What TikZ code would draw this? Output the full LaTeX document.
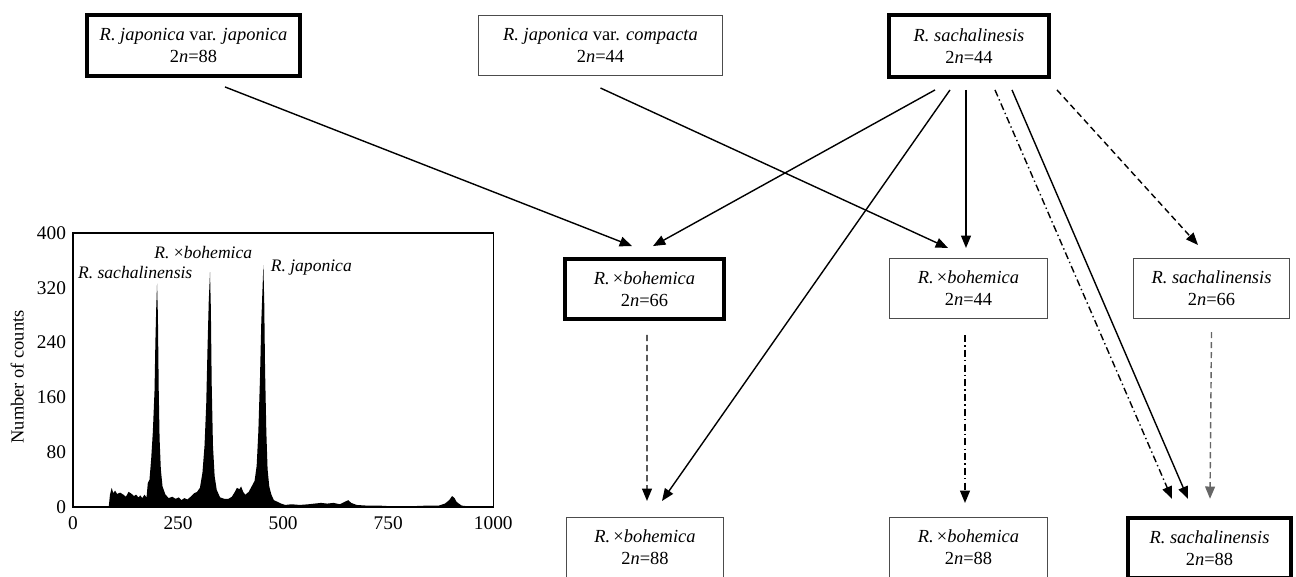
\documentclass[tikz,border=0pt]{standalone}
\usepackage{fontspec}
\setmainfont{Liberation Serif}
\usetikzlibrary{arrows.meta, calc}

\tikzset{
	box/.style={draw=black!70, line width=0.6pt, align=center, inner sep=0pt,
		font=\fontsize{10.5}{12.6}\selectfont},
	thickbox/.style={box, draw=black, line width=2.5pt},
	tick/.style={inner sep=0pt, font=\fontsize{11}{12}\selectfont},
	arr/.style={-{Triangle[length=7pt,width=5.6pt]}, line width=0.8pt},
	dsh/.style={arr, dash pattern=on 3.5pt off 2.2pt},
	dshdot/.style={arr, dash pattern=on 4pt off 1.8pt on 0.8pt off 1.8pt},
}

\begin{document}
\begin{tikzpicture}[x=0.02cm, y=-0.02cm]
	\clip (0,0) rectangle (1296,576);

	% histogram
	\begin{scope}[shift={(73,507)}, x=0.0084cm, y=0.0137cm]
		\fill (85,0) -- plot coordinates {(88,18)(92,28)(96,20)(100,24)(105,19)(112,21)(120,18)(126,15)(132,22)(138,20)(145,16)(150,18)(156,14)(160,17)(165,13)(170,18)(175,14)(178,35)(182,40)(186,70)(190,110)(194,170)(196,240)(198,290)(200,326)(202,280)(204,170)(206,100)(209,55)(213,30)(220,18)(228,13)(236,15)(244,12)(252,14)(258,10)(265,13)(272,11)(280,15)(288,20)(295,22)(302,28)(308,50)(313,90)(317,150)(320,230)(323,300)(326,343)(328,290)(330,180)(333,90)(337,45)(342,25)(350,14)(360,12)(370,12)(378,15)(385,22)(390,28)(396,26)(400,30)(405,22)(410,18)(418,22)(425,30)(432,38)(437,60)(441,110)(445,190)(448,270)(451,320)(453,353)(455,300)(457,200)(460,110)(463,55)(467,30)(472,18)(478,10)(485,8)(495,5)(505,3)(520,4)(540,3)(560,4)(575,5)(590,6)(605,5)(620,6)(635,4)(648,8)(655,10)(662,6)(675,3)(700,2)(730,2)(760,1)(800,1)(840,2)(870,2)(885,5)(895,10)(902,16)(908,13)(912,8)(918,5)(925,2)(940,1)} -- (955,0) -- cycle;
		\draw[line width=0.6pt] (0,0) rectangle (1000,400);
		\foreach \v in {0,80,...,400}
			\node[tick, anchor=east] (yt\v) at (-16,\v) {\v};
		\foreach \v in {0,250,...,1000}
			\node[tick, anchor=north] (xt\v) at (\v,-14) {\v};
		\node[rotate=90, font=\fontsize{10.5}{12}\selectfont] (ylab) at (-133,190) {Number of counts};
		\node[font=\fontsize{10}{12}\selectfont] (psa) at (148,342) {\textit{R. sachalinensis}};
		\node[font=\fontsize{10}{12}\selectfont] (pbo) at (310,372) {\textit{R.} ×\textit{bohemica}};
		\node[font=\fontsize{10}{12}\selectfont] (pja) at (567,350) {\textit{R. japonica}};
	\end{scope}

	% boxes
	\node[thickbox, minimum width=4.25cm, minimum height=1.21cm] (jj) at (193.5,45.5)
		{\textit{R. japonica} var. \textit{japonica}\\2\textit{n}=88};
	\node[box, minimum width=4.88cm, minimum height=1.2cm] (jc) at (600.5,45.5)
		{\textit{R. japonica} var. \textit{compacta}\\2\textit{n}=44};
	\node[thickbox, minimum width=3.19cm, minimum height=1.23cm] (sa) at (969,46)
		{\textit{R. sachalinesis}\\2\textit{n}=44};
	\node[thickbox, minimum width=3.17cm, minimum height=1.19cm] (b66) at (644.5,289)
		{\textit{R.}\,×\textit{bohemica}\\2\textit{n}=66};
	\node[box, minimum width=3.16cm, minimum height=1.2cm] (b44) at (968.5,288.5)
		{\textit{R.}\,×\textit{bohemica}\\2\textit{n}=44};
	\node[box, minimum width=3.12cm, minimum height=1.2cm] (s66) at (1211.5,288.5)
		{\textit{R. sachalinensis}\\2\textit{n}=66};
	\node[box, minimum width=3.14cm, minimum height=1.2cm] (b88a) at (645,547.5)
		{\textit{R.}\,×\textit{bohemica}\\2\textit{n}=88};
	\node[box, minimum width=3.16cm, minimum height=1.2cm] (b88b) at (968.5,547.5)
		{\textit{R.}\,×\textit{bohemica}\\2\textit{n}=88};
	\node[thickbox, minimum width=3.25cm, minimum height=1.2cm] (s88) at (1209.5,548)
		{\textit{R. sachalinensis}\\2\textit{n}=88};

	% crosses
	\draw[arr] ($(jj.south)+(31.5,9)$) -- ($(b66.north)+(-12.5,-11)$);
	\draw[arr] ($(jc.south)+(0,12)$) -- ($(b44.north)+(-20.5,-10)$);
	\draw[arr] ($(sa.south)+(-34,11)$) -- ($(b66.north)+(8.5,-11)$);
	\draw[arr] ($(sa.south)+(-19,11)$) -- ($(b88a.north)+(17,-16)$);
	\draw[arr] ($(sa.south)+(-3,11)$) -- ($(b44.north)+(-2.5,-10)$);
	\draw[dshdot] ($(sa.south)+(26,11)$) -- ($(s88.north)+(-37.5,-17)$);
	\draw[arr] ($(sa.south)+(43,11)$) -- ($(s88.north)+(-21.5,-17)$);
	\draw[dsh] ($(sa.south)+(88,11)$) -- ($(s66.north)+(-13.5,-13)$);

	% doubling
	\draw[dsh] ($(b66.south)+(2.5,14)$) -- ($(b88a.north)+(2,-16)$);
	\draw[dshdot] ($(b44.south)+(-3.5,16)$) -- ($(b88b.north)+(-3.5,-14)$);
	\draw[dsh, black!60] ($(s66.south)+(0,13)$) -- ($(s88.north)+(0.5,-17)$);
\end{tikzpicture}
\end{document}
